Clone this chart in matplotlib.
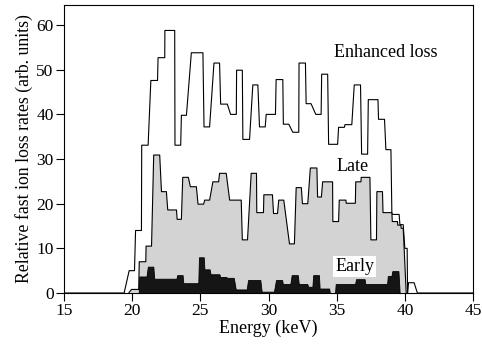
import matplotlib
matplotlib.use("Agg")
import matplotlib.pyplot as plt

plt.rcParams['font.family'] = ['Liberation Serif', 'DejaVu Serif']

# Enhanced loss (outline only)
enh_E = [15.0, 19.41, 19.78, 20.17, 20.25, 20.68, 20.70, 21.17, 21.37, 21.86, 21.90, 22.39,
         22.40, 23.12, 23.14, 23.56, 23.61, 23.98, 24.34, 25.19, 25.27, 25.68, 26.00, 26.41,
         26.49, 26.98, 27.22, 27.64, 27.66, 28.08, 28.12, 28.61, 28.85, 29.22, 29.34, 29.76,
         29.83, 30.51, 30.56, 31.05, 31.09, 31.49, 31.78, 32.22, 32.24, 32.71, 32.76, 33.12,
         33.47, 33.86, 33.90, 34.34, 34.41, 35.07, 35.14, 35.56, 35.61, 36.11, 36.29, 36.75,
         36.83, 37.27, 37.32, 38.03, 38.07, 38.51, 38.61, 38.98, 39.05, 39.58, 39.64, 39.88,
         40.00, 40.17, 40.20, 40.27, 40.68, 40.92, 45.0]
enh_V = [0.0, 0.0, 5.0, 5.0, 14.0, 14.0, 33.1, 33.1, 47.6, 47.6, 52.7, 52.7,
         58.8, 58.8, 33.1, 33.1, 39.8, 39.8, 53.8, 53.8, 37.2, 37.2, 51.5, 51.5,
         42.3, 42.3, 40.0, 40.0, 49.9, 49.9, 34.4, 34.4, 46.6, 46.6, 37.2, 37.2,
         40.0, 40.0, 47.8, 47.8, 37.8, 37.8, 36.0, 36.0, 51.5, 51.5, 42.4, 42.4,
         40.0, 40.0, 49.0, 49.0, 33.3, 33.3, 37.1, 37.1, 37.7, 37.7, 46.6, 46.6,
         31.1, 31.1, 43.3, 43.3, 38.9, 38.9, 32.1, 32.1, 17.6, 17.6, 15.3, 15.3,
         10.0, 10.0, 0.0, 2.3, 2.3, 0.0, 0.0]

# Late (light grey fill)
late_E = [19.75, 19.95, 20.48, 20.52, 21.00, 21.02, 21.42, 21.58, 22.02, 22.15, 22.51, 22.61,
          23.25, 23.30, 23.61, 23.71, 24.12, 24.27, 24.71, 24.83, 25.24, 25.32, 25.68, 25.92,
          26.34, 26.41, 26.90, 27.15, 28.00, 28.08, 28.46, 28.73, 29.12, 29.14, 29.63, 29.66,
          30.29, 30.37, 30.66, 30.75, 31.12, 31.54, 31.90, 32.03, 32.41, 32.49, 32.88, 33.07,
          33.55, 33.60, 33.88, 33.97, 34.70, 34.72, 35.14, 35.19, 35.68, 35.70, 36.37, 36.40,
          36.78, 36.80, 37.44, 37.51, 37.92, 37.95, 38.36, 38.40, 39.05, 39.08, 39.46, 39.48,
          39.71, 39.73, 39.88, 40.10]
late_V = [0.0, 0.8, 0.8, 7.0, 7.0, 10.5, 10.5, 30.9, 30.9, 22.7, 22.7, 18.6,
          18.6, 16.5, 16.5, 25.9, 25.9, 23.8, 23.8, 19.9, 19.9, 20.8, 20.8, 24.9,
          24.9, 26.8, 26.8, 20.8, 20.8, 11.9, 11.9, 26.8, 26.8, 18.0, 18.0, 22.0,
          22.0, 17.8, 17.8, 20.8, 20.8, 11.0, 11.0, 23.6, 23.6, 20.0, 20.0, 28.0,
          28.0, 21.5, 21.5, 24.9, 24.9, 16.0, 16.0, 20.8, 20.8, 20.1, 20.1, 24.9,
          24.9, 25.9, 25.9, 11.9, 11.9, 22.7, 22.7, 18.0, 18.0, 16.0, 16.0, 15.2,
          15.2, 14.5, 14.5, 0.0]

# Early (dark fill)
early_E = [20.48, 20.52, 21.05, 21.15, 21.55, 21.62, 23.25, 23.30, 23.70, 23.75, 24.85, 24.90,
           25.25, 25.30, 25.68, 25.75, 26.40, 26.45, 26.90, 26.95, 27.45, 27.60, 28.40, 28.50,
           29.40, 29.50, 30.40, 30.55, 31.00, 31.05, 31.60, 31.70, 32.15, 32.22, 32.85, 32.90,
           33.22, 33.28, 33.70, 33.75, 34.45, 34.50, 34.88, 34.93, 36.35, 36.42, 37.05, 37.10,
           38.70, 38.75, 39.02, 39.08, 39.53, 39.62]
early_V = [0.0, 3.7, 3.7, 5.9, 5.9, 3.2, 3.2, 4.0, 4.0, 2.2, 2.2, 8.0,
           8.0, 5.3, 5.3, 4.2, 4.2, 3.6, 3.6, 3.4, 3.4, 0.8, 0.8, 2.9,
           2.9, 0.3, 0.3, 2.9, 2.9, 2.0, 2.0, 4.0, 4.0, 2.0, 2.0, 1.4,
           1.4, 4.0, 4.0, 1.0, 1.0, 0.0, 0.0, 2.0, 2.0, 3.1, 3.1, 2.0,
           2.0, 3.8, 3.8, 4.9, 4.9, 0.0]

x_ticks = [15, 20, 25, 30, 35, 40, 45]
y_ticks = [0, 10, 20, 30, 40, 50, 60]

fig = plt.figure(figsize=(4.82, 3.47), dpi=100)
ax = fig.add_axes([64/482, 1 - 293/347, (473 - 64)/482, (293 - 5)/347])

ax.plot(enh_E, enh_V, color='black', lw=0.8, zorder=2)
ax.fill_between(late_E, late_V, 0, facecolor='#d3d3d3', edgecolor='none', zorder=3)
ax.plot(late_E, late_V, color='black', lw=0.8, zorder=4)
ax.fill_between(early_E, early_V, 0, facecolor='#151515', edgecolor='black', lw=0.6, zorder=5)

ax.text(34.83, 53.8, 'Enhanced loss', fontsize=13, va='center', ha='left', zorder=6)
ax.text(34.97, 28.4, 'Late', fontsize=13, va='center', ha='left', zorder=6)
ax.text(34.9, 6.0, 'Early', fontsize=13, va='center', ha='left', zorder=6,
        bbox=dict(facecolor='white', edgecolor='none', pad=1.5))

ax.set_xlim(15, 45)
ax.set_ylim(0, 64.5)
ax.set_xticks(x_ticks)
ax.set_yticks(y_ticks)
ax.tick_params(direction='out', length=5.5, width=0.8, labelsize=12.5, pad=2)
ax.set_xlabel('Energy (keV)', fontsize=13, labelpad=0)
ax.set_ylabel('Relative fast ion loss rates (arb. units)', fontsize=12.8, labelpad=2)
for s in ax.spines.values():
    s.set_linewidth(0.8)

fig.savefig('out.png', dpi=100)
